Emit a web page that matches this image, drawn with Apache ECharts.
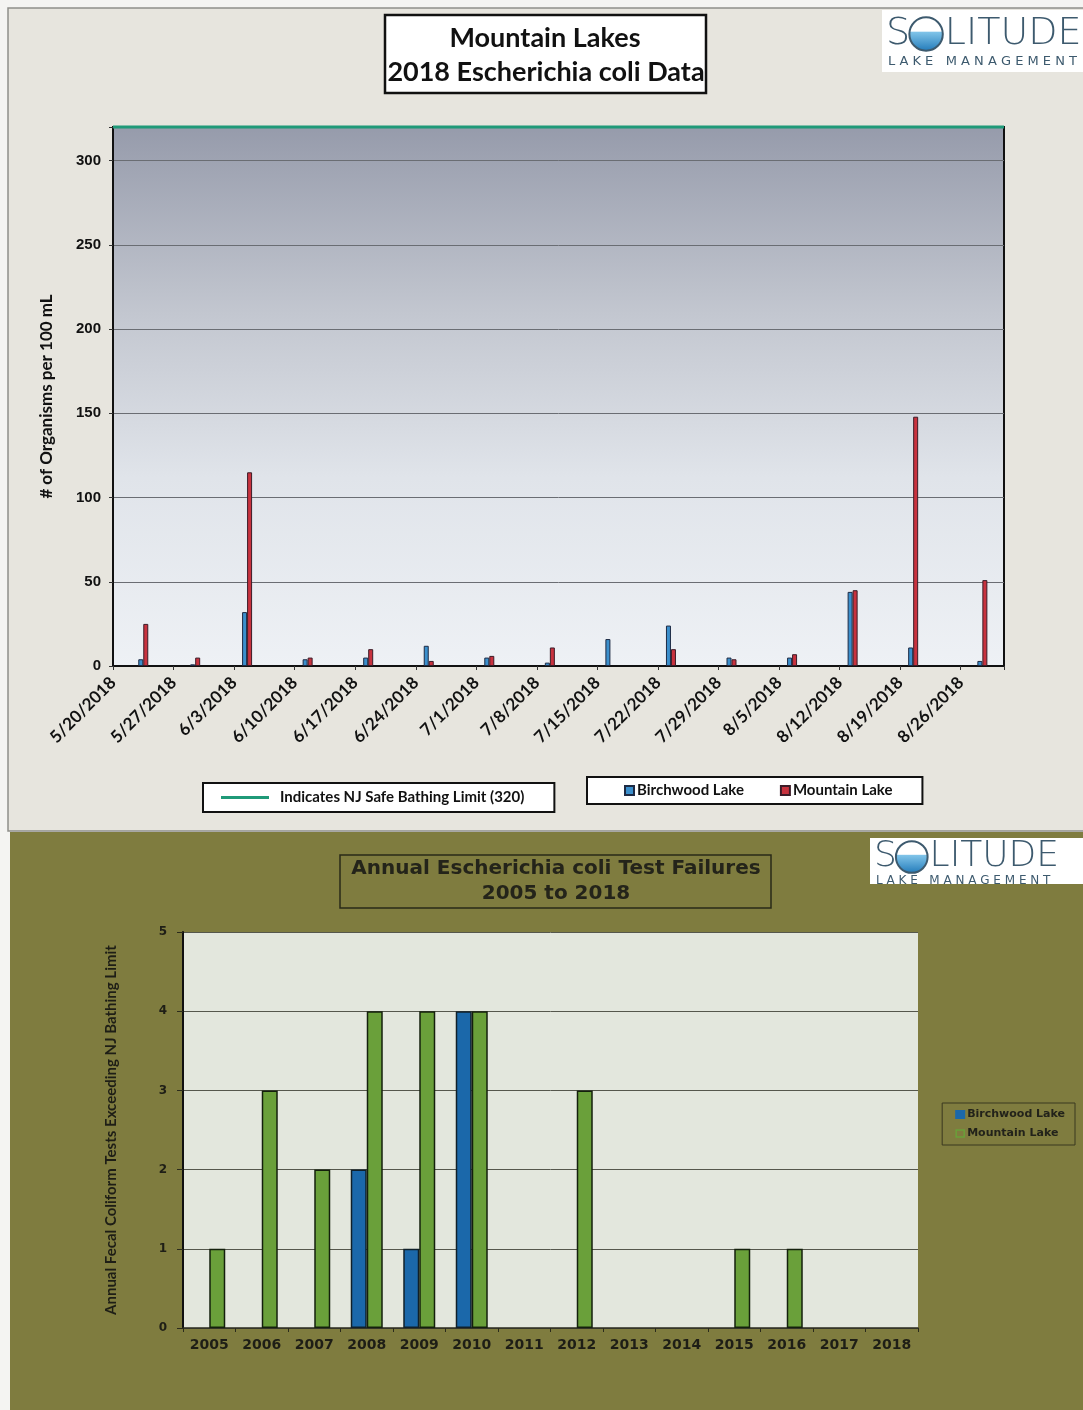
<!DOCTYPE html>
<html>
<head>
<meta charset="utf-8">
<title>Mountain Lakes E. coli</title>
<script src="https://cdn.jsdelivr.net/npm/echarts@6/dist/echarts.min.js"></script>
<style>
  html, body { margin: 0; padding: 0; background: #f4f4f2; }
  #chart { width: 1083px; height: 1410px; }
</style>
</head>
<body>
<div id="chart"></div>
<script>
// ---- 2018 weekly sampling (organisms per 100 mL) ----
const SAMPLE_DATES = ['2018-05-23', '2018-05-29', '2018-06-04', '2018-06-11', '2018-06-18',
  '2018-06-25', '2018-07-02', '2018-07-09', '2018-07-16', '2018-07-23', '2018-07-30',
  '2018-08-06', '2018-08-13', '2018-08-20', '2018-08-28'];
const BIRCHWOOD_2018 = [4, 1, 32, 4, 5, 12, 5, 2, 16, 24, 5, 5, 44, 11, 3];
const MOUNTAIN_2018 = [25, 5, 115, 5, 10, 3, 6, 11, 0, 10, 4, 7, 45, 148, 51];
const WEEK_LABELS = ['5/20/2018', '5/27/2018', '6/3/2018', '6/10/2018', '6/17/2018',
  '6/24/2018', '7/1/2018', '7/8/2018', '7/15/2018', '7/22/2018', '7/29/2018',
  '8/5/2018', '8/12/2018', '8/19/2018', '8/26/2018'];
const AXIS_START = '2018-05-20';
const AXIS_END = '2018-08-31';
const SAFE_LIMIT = 320;

// ---- Annual test failures ----
const YEARS = ['2005', '2006', '2007', '2008', '2009', '2010', '2011', '2012', '2013',
  '2014', '2015', '2016', '2017', '2018'];
const BIRCHWOOD_FAILURES = [0, 0, 0, 2, 1, 4, 0, 0, 0, 0, 0, 0, 0, 0];
const MOUNTAIN_FAILURES = [1, 3, 2, 4, 4, 4, 0, 3, 0, 0, 1, 1, 0, 0];

const DAY = 86400000;
const dayOffset = d => Math.round((Date.parse(d) - Date.parse(AXIS_START)) / DAY);
// each sample bar sits in the middle of its day slot; zero counts draw no bar
const toPoints = vals => vals.map((v, i) => [dayOffset(SAMPLE_DATES[i]) + 0.5, v === 0 ? '-' : v]);
const nonZero = vals => vals.map(v => (v === 0 ? '-' : v));
const AXIS_DAYS = dayOffset(AXIS_END);

const SANS = 'Lato, "Open Sans", sans-serif';
const VERDANA = '"DejaVu Sans", Verdana, sans-serif';

// company mark: "S", water-filled circle, "LITUDE", tagline underneath
function logo(x, y, w, h, size, cy, subY) {
  const cx = x + size * 0.66 + size * 0.5;
  const r = size * 0.44;
  const ink = '#3d5a6e';
  return {
    type: 'group',
    children: [
      { type: 'rect', shape: { x: x, y: y, width: w, height: h }, style: { fill: '#ffffff' } },
      { type: 'text', style: { text: 'S', x: x + 4, y: cy, fill: ink,
          font: '200 ' + size + 'px "DejaVu Sans", sans-serif', verticalAlign: 'middle' } },
      { type: 'circle', shape: { cx: cx, cy: cy, r: r },
        style: { fill: new echarts.graphic.LinearGradient(0, 0, 0, 1, [
          { offset: 0, color: '#ffffff' }, { offset: 0.42, color: '#ffffff' },
          { offset: 0.45, color: '#7fc3e8' }, { offset: 1, color: '#1f78b8' }]),
          stroke: ink, lineWidth: 2 } },
      { type: 'text', style: { text: 'LITUDE', x: cx + r + 2, y: cy, fill: ink,
          font: '200 ' + size + 'px "DejaVu Sans", sans-serif', verticalAlign: 'middle' } },
      { type: 'text', style: { text: 'L A K E   M A N A G E M E N T', x: x + 6, y: subY,
          fill: ink, font: '400 ' + Math.round(size * 0.33) + 'px "DejaVu Sans", sans-serif',
          verticalAlign: 'middle' } }
    ]
  };
}

const chart = echarts.init(document.getElementById('chart'), null, { renderer: 'canvas' });

chart.setOption({
  animation: false,
  backgroundColor: '#f4f4f2',
  graphic: [
    // panels
    { type: 'rect', z: -10, shape: { x: 8, y: 8, width: 1080, height: 823 },
      style: { fill: '#e7e5de', stroke: '#8e8e8a', lineWidth: 1.5 } },
    { type: 'rect', z: -10, shape: { x: 10, y: 832, width: 1073, height: 578 },
      style: { fill: '#7f7c3f' } },
    // upper title
    { type: 'rect', shape: { x: 385, y: 15, width: 321, height: 78 },
      style: { fill: '#ffffff', stroke: '#111111', lineWidth: 2.5 } },
    { type: 'text', style: { text: 'Mountain Lakes', x: 545, y: 38, align: 'center',
        verticalAlign: 'middle', fill: '#111111', font: 'bold 27px ' + SANS } },
    { type: 'text', style: { text: '2018 Escherichia coli Data', x: 546, y: 72, align: 'center',
        verticalAlign: 'middle', fill: '#111111', font: 'bold 27px ' + SANS } },
    // lower title
    { type: 'rect', shape: { x: 340, y: 855, width: 431, height: 53 },
      style: { fill: 'transparent', stroke: '#2a2a18', lineWidth: 1.5 } },
    { type: 'text', style: { text: 'Annual Escherichia coli Test Failures', x: 556, y: 869,
        align: 'center', verticalAlign: 'middle', fill: '#24241a', font: 'bold 20px ' + VERDANA } },
    { type: 'text', style: { text: '2005 to 2018', x: 556, y: 894,
        align: 'center', verticalAlign: 'middle', fill: '#24241a', font: 'bold 20px ' + VERDANA } },
    // company marks
    logo(882, 10, 201, 62, 38, 34, 62),
    logo(870, 838, 213, 46, 36, 857, 881)
  ],
  grid: [
    { left: 113, top: 127, width: 891, height: 539, show: true, borderColor: '#111111', borderWidth: 2,
      backgroundColor: new echarts.graphic.LinearGradient(0, 0, 0, 1, [
        { offset: 0, color: '#969bab' }, { offset: 0.35, color: '#c3c7d0' },
        { offset: 0.65, color: '#e0e4ea' }, { offset: 1, color: '#eef1f5' }]) },
    { left: 183, top: 932, width: 735, height: 396, show: true, borderWidth: 0,
      backgroundColor: '#e3e7dd' }
  ],
  legend: [
    { left: 203, top: 783, orient: 'horizontal', data: ['Indicates NJ Safe Bathing Limit (320)'],
      icon: 'rect', itemWidth: 48, itemHeight: 3, itemGap: 10,
      padding: [7, 30, 7, 18], backgroundColor: '#ffffff', borderColor: '#111111', borderWidth: 2,
      borderRadius: 0, selectedMode: false,
      textStyle: { fontFamily: SANS, fontWeight: 'bold', fontSize: 15, color: '#111111', padding: [0, 0, 0, 6] } },
    { left: 587, top: 777, orient: 'horizontal', data: ['Birchwood Lake', 'Mountain Lake'],
      icon: 'rect', itemWidth: 9, itemHeight: 9, itemGap: 36,
      padding: [6, 30, 6, 37], backgroundColor: '#ffffff', borderColor: '#111111', borderWidth: 2,
      borderRadius: 0, selectedMode: false,
      textStyle: { fontFamily: SANS, fontWeight: 'bold', fontSize: 15, color: '#111111', padding: [0, 0, 0, -2] } },
    { right: 8, top: 1103, orient: 'vertical',
      data: [{ name: 'Birchwood Lake', itemStyle: { color: '#1b68aa', borderColor: '#1b68aa' } },
             { name: 'Mountain Lake', itemStyle: { color: '#7f7c3f', borderColor: '#6aa03a', borderWidth: 1.5 } }],
      icon: 'rect', itemWidth: 8, itemHeight: 7, itemGap: 8,
      padding: [6, 10, 6, 13], borderColor: '#3a3820', borderWidth: 1, borderRadius: 0, selectedMode: false,
      textStyle: { fontFamily: VERDANA, fontWeight: 'bold', fontSize: 11, color: '#22221a', padding: [0, 0, 0, -2] } }
  ],
  xAxis: [
    { gridIndex: 0, type: 'value', min: 0, max: AXIS_DAYS, interval: 7,
      axisLine: { lineStyle: { color: '#111111', width: 2 } },
      axisTick: { show: true, length: 4, lineStyle: { color: '#333333' } },
      splitLine: { show: false },
      axisLabel: { rotate: 45, margin: 14, fontFamily: SANS, fontWeight: 'bold', fontSize: 17,
        color: '#111111', showMaxLabel: true,
        formatter: v => (v % 7 === 0 && WEEK_LABELS[v / 7]) || '' } },
    { gridIndex: 1, type: 'category', data: YEARS,
      axisLine: { lineStyle: { color: '#2b2b1c', width: 1.5 } },
      axisTick: { show: true, length: 4, lineStyle: { color: '#2b2b1c' } },
      axisLabel: { margin: 10, fontFamily: VERDANA, fontWeight: 'bold', fontSize: 14, color: '#1e1e16' } }
  ],
  yAxis: [
    { gridIndex: 0, type: 'value', min: 0, max: SAFE_LIMIT, interval: 50,
      name: '# of Organisms per 100 mL', nameLocation: 'middle', nameGap: 58, nameRotate: 90,
      nameTextStyle: { fontFamily: SANS, fontWeight: 'bold', fontSize: 17, color: '#111111' },
      axisLine: { show: true, lineStyle: { color: '#111111', width: 2 } },
      axisTick: { show: true, length: 4, lineStyle: { color: '#333333' } },
      splitLine: { lineStyle: { color: '#6a6d73', width: 1 } },
      axisLabel: { margin: 12, fontFamily: '"Liberation Sans", Arial, sans-serif', fontWeight: 'bold',
        fontSize: 15, color: '#111111', formatter: v => (v <= 300 ? String(v) : '') } },
    { gridIndex: 1, type: 'value', min: 0, max: 5, interval: 1,
      name: 'Annual Fecal Coliform Tests Exceeding NJ Bathing Limit', nameLocation: 'middle',
      nameGap: 64, nameRotate: 90,
      nameTextStyle: { fontFamily: SANS, fontWeight: 'bold', fontSize: 15, color: '#1e1e16' },
      axisLine: { show: true, lineStyle: { color: '#111111', width: 2 } },
      axisTick: { show: true, length: 6, lineStyle: { color: '#2b2b1c' } },
      splitLine: { lineStyle: { color: '#55574c', width: 1 } },
      axisLabel: { margin: 16, fontFamily: VERDANA, fontWeight: 'bold', fontSize: 12, color: '#1e1e16' } }
  ],
  series: [
    { name: 'Birchwood Lake', type: 'bar', xAxisIndex: 0, yAxisIndex: 0, data: toPoints(BIRCHWOOD_2018),
      barWidth: 5, barGap: '0%',
      itemStyle: { color: '#3b8fcc', borderColor: '#1d2a44', borderWidth: 1 } },
    { name: 'Mountain Lake', type: 'bar', xAxisIndex: 0, yAxisIndex: 0, data: toPoints(MOUNTAIN_2018),
      barWidth: 5, barGap: '0%',
      itemStyle: { color: '#c8323e', borderColor: '#3c1c28', borderWidth: 1 } },
    { name: 'Indicates NJ Safe Bathing Limit (320)', type: 'line', xAxisIndex: 0, yAxisIndex: 0,
      data: [[0, SAFE_LIMIT], [AXIS_DAYS, SAFE_LIMIT]], symbol: 'none', clip: false, z: 5,
      lineStyle: { color: '#1f9a78', width: 3 }, itemStyle: { color: '#1f9a78' } },
    { name: 'Birchwood Lake', type: 'bar', xAxisIndex: 1, yAxisIndex: 1, data: nonZero(BIRCHWOOD_FAILURES),
      barWidth: 16, barGap: '0%',
      itemStyle: { color: '#1b68aa', borderColor: '#10202a', borderWidth: 1.5 } },
    { name: 'Mountain Lake', type: 'bar', xAxisIndex: 1, yAxisIndex: 1, data: nonZero(MOUNTAIN_FAILURES),
      barWidth: 16, barGap: '0%',
      itemStyle: { color: '#6aa03a', borderColor: '#14200c', borderWidth: 1.5 } }
  ]
});
</script>
</body>
</html>
